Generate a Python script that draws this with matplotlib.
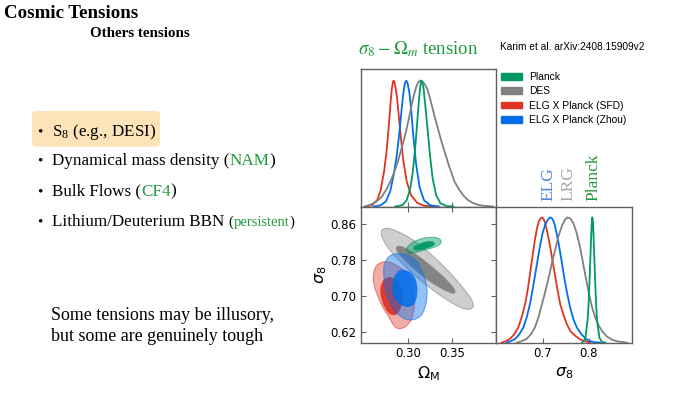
import numpy as np
import matplotlib
matplotlib.use("Agg")
import matplotlib.pyplot as plt
from matplotlib.colors import to_rgba
from matplotlib.path import Path
from matplotlib.patches import Patch, PathPatch, FancyBboxPatch
from matplotlib.offsetbox import TextArea, HPacker, AnnotationBbox

# colours (getdist defaults)
C_PLANCK = "#009966"
C_DES = "#808080"
C_SFD = "#e03424"
C_ZHOU = "#006fed"
GREEN_TXT = "#1f9a3c"
SERIF = "Liberation Serif"

legend_labels = ["Planck", "DES", "ELG X Planck (SFD)", "ELG X Planck (Zhou)"]

# --- 1D posteriors of Omega_m (peak normalised) ---
om_sfd_x = [0.250, 0.258, 0.264, 0.268, 0.272, 0.275, 0.2775, 0.2795, 0.281, 0.2822, 0.283, 0.2838, 0.285,
            0.2868, 0.2888, 0.291, 0.294, 0.298, 0.303, 0.310, 0.318, 0.330]
om_sfd_p = [0.0, 0.01, 0.05, 0.13, 0.28, 0.45, 0.65, 0.83, 0.94, 0.99, 1.0, 0.99, 0.95,
            0.87, 0.73, 0.57, 0.37, 0.20, 0.09, 0.03, 0.006, 0.0]
om_zhou_x = [0.260, 0.268, 0.274, 0.279, 0.283, 0.2865, 0.2895, 0.2920, 0.2940, 0.2960, 0.2975, 0.2990,
             0.3010, 0.3030, 0.3055, 0.309, 0.313, 0.318, 0.325, 0.335]
om_zhou_p = [0.0, 0.01, 0.04, 0.12, 0.25, 0.40, 0.58, 0.76, 0.89, 0.98, 1.0, 0.98,
             0.91, 0.79, 0.57, 0.33, 0.15, 0.05, 0.01, 0.0]
om_planck_x = [0.285, 0.293, 0.298, 0.302, 0.305, 0.308, 0.3105, 0.3125, 0.314, 0.315, 0.316, 0.3175,
               0.3195, 0.322, 0.325, 0.328, 0.332, 0.337, 0.344, 0.352]
om_planck_p = [0.0, 0.01, 0.05, 0.14, 0.27, 0.48, 0.70, 0.87, 0.97, 1.0, 0.99, 0.94,
               0.80, 0.62, 0.40, 0.22, 0.09, 0.025, 0.004, 0.0]
om_des_x = [0.250, 0.257, 0.263, 0.269, 0.275, 0.280, 0.284, 0.288, 0.292, 0.296, 0.300, 0.3035, 0.3065,
            0.309, 0.3115, 0.314, 0.3165, 0.319, 0.322, 0.3245, 0.3275, 0.330, 0.334, 0.338, 0.342,
            0.346, 0.3495, 0.353, 0.358, 0.363, 0.368, 0.3745, 0.381, 0.388, 0.3975]
om_des_p = [0.0, 0.016, 0.04, 0.075, 0.14, 0.21, 0.28, 0.36, 0.46, 0.56, 0.68, 0.80, 0.89,
            0.95, 0.99, 1.0, 0.99, 0.97, 0.93, 0.87, 0.79, 0.72, 0.62, 0.52, 0.43,
            0.34, 0.27, 0.20, 0.14, 0.09, 0.055, 0.027, 0.012, 0.005, 0.0]

# --- 1D posteriors of sigma_8 ---
s8_sfd_x = [0.611, 0.620, 0.629, 0.638, 0.647, 0.655, 0.662, 0.6675, 0.6725, 0.678, 0.683, 0.688, 0.692,
            0.695, 0.698, 0.7015, 0.705, 0.7095, 0.7145, 0.7205, 0.727, 0.732, 0.7377, 0.745, 0.752,
            0.760, 0.770, 0.779, 0.788, 0.803]
s8_sfd_p = [0.0, 0.012, 0.03, 0.065, 0.12, 0.21, 0.31, 0.42, 0.55, 0.69, 0.82, 0.92, 0.97,
            0.99, 1.0, 0.99, 0.96, 0.89, 0.80, 0.67, 0.53, 0.42, 0.31, 0.22, 0.15,
            0.09, 0.056, 0.03, 0.016, 0.0]
s8_zhou_x = [0.622, 0.631, 0.640, 0.649, 0.658, 0.666, 0.6725, 0.678, 0.683, 0.6885, 0.694, 0.6995,
             0.705, 0.709, 0.713, 0.7167, 0.7205, 0.7246, 0.729, 0.734, 0.740, 0.746, 0.7525, 0.7594,
             0.767, 0.774, 0.783, 0.792, 0.800, 0.810, 0.825]
s8_zhou_p = [0.0, 0.012, 0.03, 0.065, 0.12, 0.21, 0.31, 0.42, 0.53, 0.65, 0.77, 0.87,
             0.94, 0.97, 0.99, 1.0, 0.99, 0.96, 0.89, 0.80, 0.67, 0.53, 0.40, 0.28,
             0.18, 0.12, 0.07, 0.035, 0.015, 0.005, 0.0]
s8_des_x = [0.6435, 0.654, 0.665, 0.674, 0.683, 0.6905, 0.6978, 0.705, 0.7123, 0.7195, 0.7268, 0.734,
            0.7413, 0.7475, 0.7536, 0.760, 0.7667, 0.773, 0.7797, 0.7865, 0.7935, 0.800, 0.8065,
            0.8135, 0.821, 0.830, 0.8391, 0.850, 0.861, 0.8826]
s8_des_p = [0.0, 0.012, 0.03, 0.065, 0.12, 0.20, 0.30, 0.40, 0.51, 0.63, 0.74, 0.85,
            0.93, 0.98, 1.0, 0.99, 0.95, 0.88, 0.78, 0.65, 0.51, 0.39, 0.285,
            0.20, 0.137, 0.085, 0.048, 0.024, 0.011, 0.0]
s8_planck_x = [0.785, 0.792, 0.797, 0.799, 0.8007, 0.8022, 0.8036, 0.8048, 0.8058, 0.8066, 0.8072,
               0.8079, 0.8087, 0.8098, 0.8109, 0.8124, 0.8138, 0.8155, 0.8174, 0.8225, 0.8283, 0.8355]
s8_planck_p = [0.0, 0.03, 0.18, 0.30, 0.45, 0.60, 0.74, 0.86, 0.94, 0.99, 1.0,
               0.99, 0.95, 0.86, 0.74, 0.60, 0.45, 0.30, 0.18, 0.04, 0.005, 0.0]

# --- 2D contours (Omega_m, sigma_8), outer = 95%, inner = 68% ---
des_out_om = [0.2702, 0.2760, 0.2837, 0.2953, 0.3070, 0.3186, 0.3302, 0.3419, 0.3535, 0.3651, 0.3729, 0.3756,
              0.3729, 0.3651, 0.3554, 0.3438, 0.3322, 0.3205, 0.3089, 0.2973, 0.2857, 0.2760, 0.2702, 0.2682]
des_out_s8 = [0.8489, 0.8511, 0.8467, 0.8363, 0.8230, 0.8044, 0.7859, 0.7637, 0.7400, 0.7133, 0.6933, 0.6785,
              0.6704, 0.6704, 0.6785, 0.6919, 0.7074, 0.7244, 0.7430, 0.7637, 0.7859, 0.8081, 0.8267, 0.8415]
des_in_om = [0.2868, 0.2953, 0.3070, 0.3186, 0.3302, 0.3419, 0.3516, 0.3543,
             0.3527, 0.3438, 0.3322, 0.3205, 0.3089, 0.2973, 0.2884, 0.2857]
des_in_s8 = [0.8119, 0.8081, 0.7948, 0.7785, 0.7600, 0.7400, 0.7193, 0.7104,
             0.7044, 0.7104, 0.7230, 0.7378, 0.7563, 0.7770, 0.7948, 0.8044]
planck_out_om = [0.2973, 0.2992, 0.3070, 0.3147, 0.3264, 0.3353, 0.3384, 0.3360, 0.3283, 0.3186, 0.3089, 0.3012]
planck_out_s8 = [0.8007, 0.8119, 0.8215, 0.8281, 0.8311, 0.8289, 0.8215, 0.8133, 0.8074, 0.8022, 0.7970, 0.7933]
planck_in_om = [0.3050, 0.3128, 0.3225, 0.3295, 0.3306, 0.3244, 0.3147, 0.3070]
planck_in_s8 = [0.8081, 0.8163, 0.8215, 0.8200, 0.8141, 0.8081, 0.8030, 0.8015]
sfd_out_om = [0.2593, 0.2624, 0.2682, 0.2760, 0.2837, 0.2934, 0.2992, 0.3043, 0.3070, 0.3062, 0.3012, 0.2915,
              0.2837, 0.2779, 0.2702, 0.2643, 0.2597]
sfd_out_s8 = [0.7489, 0.7674, 0.7748, 0.7770, 0.7711, 0.7600, 0.7474, 0.7267, 0.6896, 0.6600, 0.6378, 0.6252,
              0.6304, 0.6526, 0.6748, 0.7007, 0.7267]
sfd_in_om = [0.2740, 0.2818, 0.2895, 0.2934, 0.2926, 0.2884, 0.2818, 0.2752, 0.2702, 0.2674, 0.2690]
sfd_in_s8 = [0.7400, 0.7415, 0.7304, 0.7081, 0.6822, 0.6615, 0.6563, 0.6659, 0.6859, 0.7081, 0.7281]
zhou_out_om = [0.2740, 0.2779, 0.2857, 0.2953, 0.3050, 0.3109, 0.3147, 0.3186, 0.3213, 0.3217, 0.3205, 0.3167,
               0.3101, 0.3012, 0.2915, 0.2837, 0.2779, 0.2740, 0.2721, 0.2713, 0.2721]
zhou_out_s8 = [0.7785, 0.7896, 0.7948, 0.7933, 0.7859, 0.7748, 0.7600, 0.7415, 0.7230, 0.7044, 0.6822, 0.6600,
               0.6489, 0.6452, 0.6526, 0.6674, 0.6859, 0.7081, 0.7304, 0.7563, 0.7711]
zhou_in_om = [0.2895, 0.2992, 0.3062, 0.3097, 0.3101, 0.3078, 0.3031, 0.2953, 0.2876, 0.2829, 0.2810, 0.2829]
zhou_in_s8 = [0.7585, 0.7563, 0.7452, 0.7267, 0.7044, 0.6859, 0.6763, 0.6763, 0.6859, 0.7007, 0.7193, 0.7415]

fig = plt.figure(figsize=(7, 3.94), dpi=100)

# background axes in slide pixels for all the slide text
bg = fig.add_axes([0, 0, 1, 1])
bg.set_xlim(0, 700)
bg.set_ylim(394, 0)
bg.axis("off")


def fpos(x0, y0, x1, y1):
    return [x0 / 700, 1 - y1 / 394, (x1 - x0) / 700, (y1 - y0) / 394]


ax_om = fig.add_axes(fpos(360.7, 69.3, 496, 206.5))
ax_2d = fig.add_axes(fpos(360.7, 206.5, 496, 342.7))
ax_s8 = fig.add_axes(fpos(496, 206.5, 632, 342.7))

for ax in (ax_om, ax_2d, ax_s8):
    for sp in ax.spines.values():
        sp.set_color("#606060")
        sp.set_linewidth(1.0)
    ax.tick_params(direction="in", length=3.5, width=0.8, color="#606060",
                   labelsize=8.5, pad=3, top=True, right=True)

# top-left: Omega_m marginals
for xs, ps, c in [(om_sfd_x, om_sfd_p, C_SFD), (om_zhou_x, om_zhou_p, C_ZHOU),
                  (om_des_x, om_des_p, C_DES), (om_planck_x, om_planck_p, C_PLANCK)]:
    ax_om.plot(xs, ps, color=c, lw=1.3, solid_joinstyle="round")
ax_om.set_xlim(0.245, 0.401)
ax_om.set_ylim(0, 1.09)
ax_om.set_xticks([0.30, 0.35])
ax_om.set_xticklabels([])
ax_om.set_yticks([])
ax_om.tick_params(top=False)

# bottom-right: sigma_8 marginals
for xs, ps, c in [(s8_sfd_x, s8_sfd_p, C_SFD), (s8_zhou_x, s8_zhou_p, C_ZHOU),
                  (s8_des_x, s8_des_p, C_DES), (s8_planck_x, s8_planck_p, C_PLANCK)]:
    ax_s8.plot(xs, ps, color=c, lw=1.3, solid_joinstyle="round")
ax_s8.set_xlim(0.599, 0.893)
ax_s8.set_ylim(0, 1.087)
ax_s8.set_xticks([0.7, 0.8])
ax_s8.set_xticklabels(["0.7", "0.8"])
ax_s8.set_yticks([])
ax_s8.tick_params(top=False)
ax_s8.set_xlabel(r"$\sigma_8$", fontsize=11.5, labelpad=4)


# bottom-left: 2D contours, outlines drawn as smooth closed curves
def contour(om, s8, color, a_fill, z):
    pts = np.column_stack([om, s8])
    mids = (pts + np.roll(pts, -1, axis=0)) / 2
    verts = [mids[-1]]
    codes = [Path.MOVETO]
    for p, m in zip(pts, mids):
        verts += [p, m]
        codes += [Path.CURVE3, Path.CURVE3]
    ax_2d.add_patch(PathPatch(Path(verts, codes), facecolor=to_rgba(color, a_fill),
                              edgecolor=to_rgba(color, 0.55), lw=0.8, zorder=z))


contour(des_out_om, des_out_s8, C_DES, 0.38, 1)
contour(des_in_om, des_in_s8, C_DES, 0.95, 2)
contour(planck_out_om, planck_out_s8, C_PLANCK, 0.45, 3)
contour(planck_in_om, planck_in_s8, C_PLANCK, 0.95, 4)
contour(sfd_out_om, sfd_out_s8, C_SFD, 0.40, 5)
contour(sfd_in_om, sfd_in_s8, C_SFD, 0.95, 6)
contour(zhou_out_om, zhou_out_s8, C_ZHOU, 0.42, 7)
contour(zhou_in_om, zhou_in_s8, C_ZHOU, 0.85, 8)

ax_2d.set_xlim(0.245, 0.401)
ax_2d.set_ylim(0.596, 0.899)
ax_2d.set_xticks([0.30, 0.35])
ax_2d.set_xticklabels(["0.30", "0.35"])
ax_2d.set_yticks([0.62, 0.70, 0.78, 0.86])
ax_2d.set_yticklabels(["0.62", "0.70", "0.78", "0.86"])
ax_2d.set_xlabel(r"$\Omega_{\rm M}$", fontsize=11.5, labelpad=3)
ax_2d.set_ylabel(r"$\sigma_8$", fontsize=11.5, labelpad=1)

# legend
handles = [Patch(color=c) for c in (C_PLANCK, C_DES, C_SFD, C_ZHOU)]
fig.legend(handles, legend_labels, loc="upper left", bbox_to_anchor=(501 / 700, 1 - 72 / 394),
           frameon=False, prop={"family": "Liberation Sans", "size": 7.4}, handlelength=2.0,
           handleheight=0.65, handletextpad=0.72, labelspacing=0.42, borderpad=0, borderaxespad=0)

# titles over the plot
bg.text(358, 49, r"$\sigma_8 - \Omega_m$ tension", color=GREEN_TXT, fontsize=13.5,
        family=SERIF, math_fontfamily="stix", va="center", ha="left")
bg.text(500, 47, "Karim et al. arXiv:2408.15909v2", fontsize=7.3, family="Liberation Sans",
        va="center", ha="left")
for x, lab, c in [(548, "ELG", "#4f86dc"), (568, "LRG", "#a8a8a8"), (593, "Planck", "#27983a")]:
    bg.text(x, 201, lab, rotation=90, color=c, fontsize=12.5, family=SERIF, ha="center", va="bottom")

# slide text on the left
bg.text(4, 13, "Cosmic Tensions", fontsize=13.6, fontweight="bold", family=SERIF, va="center")
bg.text(90, 33.5, "Others tensions", fontsize=10.8, fontweight="bold", family=SERIF, va="center")

bg.add_patch(FancyBboxPatch((32, 111), 128, 35.7, boxstyle="round,pad=0,rounding_size=4",
                            facecolor="#fde4b8", edgecolor="none"))

bullets = [
    [(r"S$\mathregular{_8}$ (e.g., DESI)", "black", 12.3)],
    [("Dynamical mass density (", "black", 12.3), ("NAM", GREEN_TXT, 12.3), (")", "black", 12.3)],
    [("Bulk Flows (", "black", 12.3), ("CF4", GREEN_TXT, 12.3), (")", "black", 12.3)],
    [("Lithium/Deuterium BBN ", "black", 12.3), ("(", "black", 10.5), ("persistent", GREEN_TXT, 10.5),
     (")", "black", 10.5)],
]
bullet_y = [131.7, 161, 191.7, 221.7]
for parts, y in zip(bullets, bullet_y):
    bg.text(40, y, "\u2022", fontsize=11, family=SERIF, ha="center", va="center")
    boxes = [TextArea(t, textprops=dict(color=c, fontsize=s, family=SERIF)) for t, c, s in parts]
    pack = HPacker(children=boxes, align="baseline", pad=0, sep=0)
    bg.add_artist(AnnotationBbox(pack, (52, y), xycoords="data", box_alignment=(0, 0.5),
                                 frameon=False, pad=0))

bg.text(51, 315, "Some tensions may be illusory,", fontsize=12.9, family=SERIF, va="center")
bg.text(51, 336.7, "but some are genuinely tough", fontsize=12.9, family=SERIF, va="center")

fig.savefig("out.png", dpi=100)
